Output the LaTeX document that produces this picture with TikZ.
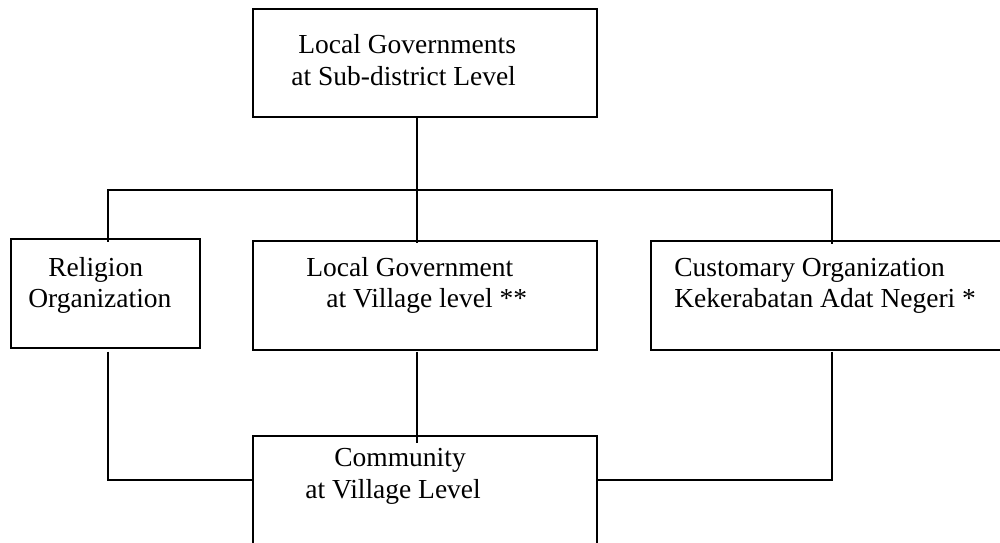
\documentclass[tikz,border=0pt]{standalone}
\usepackage{fontspec}
\setmainfont{Liberation Serif}
\usetikzlibrary{positioning}

\tikzset{
  unitbox/.style={draw, line width=1.1pt, rectangle, inner sep=0pt, outer sep=0pt},
  lbl/.style={anchor=base west, inner sep=0pt, font=\fontsize{15.65}{17.9}\selectfont},
  link/.style={line width=0.85pt}
}

\begin{document}
\begin{tikzpicture}[x=0.02cm, y=-0.02cm]
 \useasboundingbox (0,0) rectangle (1000,542);
 \clip (0,0) rectangle (1000,542);

 % boxes
 \node[unitbox, minimum width=6.88cm, minimum height=2.16cm] (top)  at (425,63)    {};
 \node[unitbox, minimum width=3.78cm, minimum height=2.18cm] (rel)  at (105.5,293.5) {};
 \node[unitbox, minimum width=6.88cm, minimum height=2.18cm] (govt) at (425,295.5) {};
 \node[unitbox, minimum width=7.10cm, minimum height=2.18cm] (cust) at (828.5,295.5) {};
 \node[unitbox, minimum width=6.88cm, minimum height=2.28cm] (comm) at (425,493)   {};

 % texts
 \node[lbl] (top-a)  at (298,53)    {Local Governments};
 \node[lbl] (top-b)  at (291,85)    {at Sub-district Level};
 \node[lbl] (rel-a)  at (48,276)    {Religion};
 \node[lbl] (rel-b)  at (28,307.5)  {Organization};
 \node[lbl] (govt-a) at (306,276)   {Local Government};
 \node[lbl] (govt-b) at (326,307.5) {at Village level **};
 \node[lbl] (cust-a) at (674,276)   {Customary Organization};
 \node[lbl] (cust-b) at (674,307.5) {Kekerabatan Adat Negeri *};
 \node[lbl] (comm-a) at (334,466)   {Community};
 \node[lbl] (comm-b) at (305,498)   {at Village Level};

 % connectors
 \coordinate (bus)  at (417,190);
 \coordinate (busL) at (108,190);
 \coordinate (busR) at (832,190);
 \coordinate (lowL) at (108,480);
 \coordinate (lowR) at (832,480);

 \draw[link, shorten >=-1pt] (top.south -| bus) -- (bus) -- (govt.north -| bus);
 \draw[link, shorten <=-1.5pt, shorten >=-1.5pt] (rel.north -| busL) -- (busL) -- (busR) -- (cust.north -| busR);
 \draw[link, shorten <=2pt] (rel.south -| lowL) -- (lowL) -- (comm.west |- lowL);
 \draw[link, shorten <=1pt, shorten >=-4pt] (govt.south -| bus) -- (comm.north -| bus);
 \draw[link, shorten <=1pt] (cust.south -| lowR) -- (lowR) -- (comm.east |- lowR);
\end{tikzpicture}
\end{document}
